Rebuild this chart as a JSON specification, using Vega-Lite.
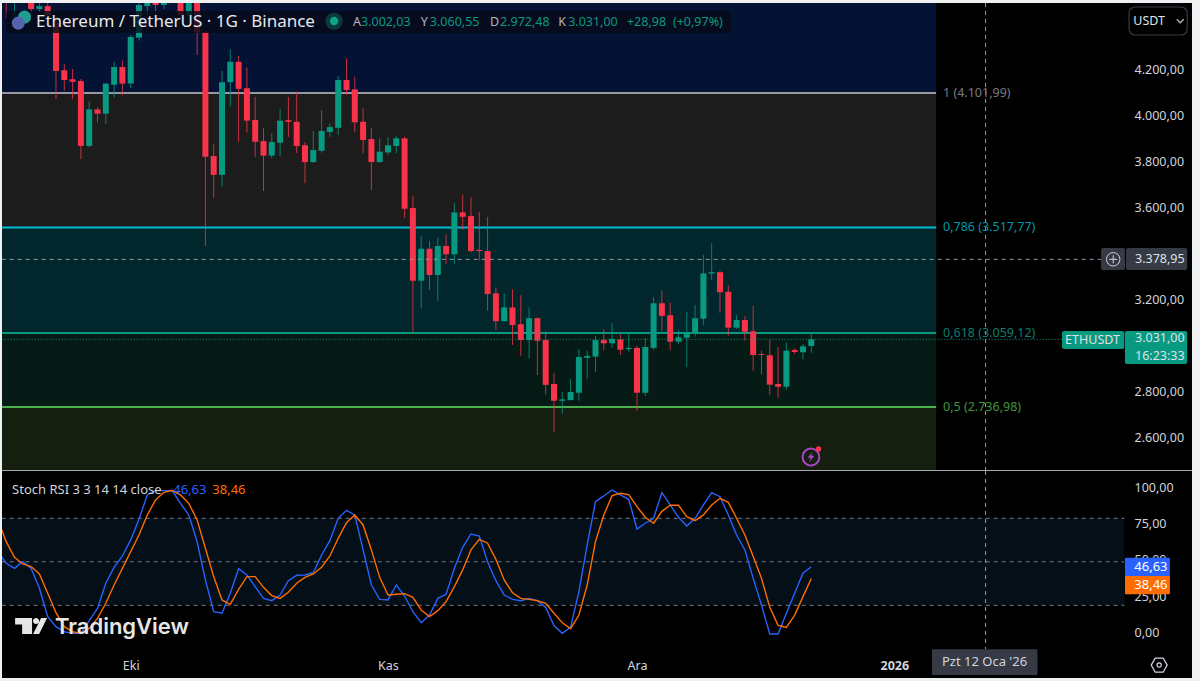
{
"$schema":"https://vega.github.io/schema/vega-lite/v6.json",
"background":"#eef0f2",
"padding":{"left":2,"top":3,"right":8,"bottom":3},
"spacing":0,
"config":{"view":{"stroke":null,"fill":"#000000"},"font":"Noto Sans","text":{"font":"Noto Sans"}},
"datasets":{
"candles":[
{"date":"2025-09-16","open":4560,"high":4575,"low":4428,"close":4530},
{"date":"2025-09-17","open":4520,"high":4570,"low":4428,"close":4550},
{"date":"2025-09-19","open":4528,"high":4540,"low":4446,"close":4467},
{"date":"2025-09-20","open":4467,"high":4500,"low":4454,"close":4480},
{"date":"2025-09-21","open":4480,"high":4510,"low":4437,"close":4441},
{"date":"2025-09-22","open":4407,"high":4446,"low":4077,"close":4198},
{"date":"2025-09-23","open":4201,"high":4228,"low":4112,"close":4159},
{"date":"2025-09-24","open":4162,"high":4207,"low":4075,"close":4151},
{"date":"2025-09-25","open":4154,"high":4163,"low":3815,"close":3872},
{"date":"2025-09-26","open":3872,"high":4066,"low":3867,"close":4031},
{"date":"2025-09-27","open":4031,"high":4040,"low":3975,"close":4012},
{"date":"2025-09-28","open":4012,"high":4146,"low":3967,"close":4143},
{"date":"2025-09-29","open":4138,"high":4236,"low":4082,"close":4215},
{"date":"2025-09-30","open":4215,"high":4244,"low":4092,"close":4143},
{"date":"2025-10-01","open":4143,"high":4354,"low":4124,"close":4346},
{"date":"2025-10-02","open":4343,"high":4500,"low":4330,"close":4485},
{"date":"2025-10-03","open":4480,"high":4540,"low":4437,"close":4528},
{"date":"2025-10-04","open":4510,"high":4530,"low":4441,"close":4485},
{"date":"2025-10-05","open":4485,"high":4530,"low":4467,"close":4510},
{"date":"2025-10-06","open":4505,"high":4530,"low":4492,"close":4520},
{"date":"2025-10-07","open":4530,"high":4540,"low":4433,"close":4441},
{"date":"2025-10-08","open":4441,"high":4540,"low":4415,"close":4530},
{"date":"2025-10-09","open":4530,"high":4540,"low":4267,"close":4366},
{"date":"2025-10-10","open":4366,"high":4376,"low":3437,"close":3825},
{"date":"2025-10-11","open":3828,"high":3879,"low":3647,"close":3746},
{"date":"2025-10-12","open":3746,"high":4198,"low":3695,"close":4149},
{"date":"2025-10-13","open":4149,"high":4292,"low":4043,"close":4238},
{"date":"2025-10-14","open":4238,"high":4263,"low":3890,"close":4120},
{"date":"2025-10-15","open":4123,"high":4214,"low":3930,"close":3982},
{"date":"2025-10-16","open":3985,"high":4085,"low":3825,"close":3890},
{"date":"2025-10-17","open":3893,"high":3950,"low":3676,"close":3830},
{"date":"2025-10-18","open":3830,"high":3928,"low":3818,"close":3889},
{"date":"2025-10-19","open":3886,"high":4033,"low":3828,"close":3982},
{"date":"2025-10-20","open":3984,"high":4085,"low":3911,"close":3977},
{"date":"2025-10-21","open":3977,"high":4108,"low":3841,"close":3872},
{"date":"2025-10-22","open":3875,"high":3889,"low":3710,"close":3802},
{"date":"2025-10-23","open":3802,"high":3937,"low":3798,"close":3854},
{"date":"2025-10-24","open":3851,"high":4028,"low":3843,"close":3937},
{"date":"2025-10-25","open":3933,"high":3970,"low":3912,"close":3954},
{"date":"2025-10-26","open":3951,"high":4176,"low":3920,"close":4159},
{"date":"2025-10-27","open":4159,"high":4253,"low":4094,"close":4115},
{"date":"2025-10-28","open":4118,"high":4173,"low":3933,"close":3975},
{"date":"2025-10-29","open":3977,"high":4036,"low":3840,"close":3898},
{"date":"2025-10-30","open":3902,"high":3949,"low":3680,"close":3802},
{"date":"2025-10-31","open":3802,"high":3905,"low":3798,"close":3847},
{"date":"2025-11-01","open":3844,"high":3910,"low":3833,"close":3875},
{"date":"2025-11-02","open":3872,"high":3917,"low":3840,"close":3905},
{"date":"2025-11-03","open":3905,"high":3912,"low":3560,"close":3599},
{"date":"2025-11-04","open":3602,"high":3656,"low":3060,"close":3286},
{"date":"2025-11-05","open":3286,"high":3480,"low":3166,"close":3425},
{"date":"2025-11-06","open":3425,"high":3459,"low":3246,"close":3311},
{"date":"2025-11-07","open":3311,"high":3473,"low":3198,"close":3437},
{"date":"2025-11-08","open":3437,"high":3488,"low":3359,"close":3401},
{"date":"2025-11-09","open":3401,"high":3623,"low":3359,"close":3583},
{"date":"2025-11-10","open":3583,"high":3660,"low":3507,"close":3564},
{"date":"2025-11-11","open":3567,"high":3649,"low":3408,"close":3415},
{"date":"2025-11-12","open":3420,"high":3586,"low":3373,"close":3415},
{"date":"2025-11-13","open":3415,"high":3564,"low":3156,"close":3228},
{"date":"2025-11-14","open":3231,"high":3257,"low":3072,"close":3110},
{"date":"2025-11-15","open":3110,"high":3231,"low":3108,"close":3170},
{"date":"2025-11-16","open":3170,"high":3249,"low":3007,"close":3094},
{"date":"2025-11-17","open":3097,"high":3223,"low":2960,"close":3028},
{"date":"2025-11-18","open":3028,"high":3170,"low":2949,"close":3123},
{"date":"2025-11-19","open":3123,"high":3127,"low":2876,"close":3025},
{"date":"2025-11-20","open":3028,"high":3066,"low":2792,"close":2833},
{"date":"2025-11-21","open":2837,"high":2886,"low":2627,"close":2764},
{"date":"2025-11-22","open":2764,"high":2802,"low":2708,"close":2770},
{"date":"2025-11-23","open":2767,"high":2859,"low":2765,"close":2802},
{"date":"2025-11-24","open":2799,"high":2989,"low":2764,"close":2954},
{"date":"2025-11-25","open":2951,"high":2982,"low":2859,"close":2959},
{"date":"2025-11-26","open":2956,"high":3047,"low":2890,"close":3028},
{"date":"2025-11-27","open":3028,"high":3075,"low":2985,"close":3014},
{"date":"2025-11-28","open":3014,"high":3101,"low":2995,"close":3033},
{"date":"2025-11-29","open":3031,"high":3054,"low":2963,"close":2986},
{"date":"2025-11-30","open":2989,"high":3057,"low":2977,"close":2994},
{"date":"2025-12-01","open":2994,"high":3002,"low":2720,"close":2799},
{"date":"2025-12-02","open":2799,"high":3036,"low":2785,"close":2998},
{"date":"2025-12-03","open":2994,"high":3214,"low":2985,"close":3188},
{"date":"2025-12-04","open":3188,"high":3243,"low":3067,"close":3133},
{"date":"2025-12-05","open":3136,"high":3192,"low":2985,"close":3021},
{"date":"2025-12-06","open":3021,"high":3070,"low":3011,"close":3040},
{"date":"2025-12-07","open":3038,"high":3150,"low":2910,"close":3060},
{"date":"2025-12-08","open":3057,"high":3180,"low":3043,"close":3123},
{"date":"2025-12-09","open":3121,"high":3399,"low":3094,"close":3318},
{"date":"2025-12-10","open":3317,"high":3449,"low":3289,"close":3323},
{"date":"2025-12-11","open":3323,"high":3328,"low":3147,"close":3236},
{"date":"2025-12-12","open":3238,"high":3266,"low":3047,"close":3082},
{"date":"2025-12-13","open":3082,"high":3136,"low":3076,"close":3115},
{"date":"2025-12-14","open":3115,"high":3131,"low":3025,"close":3064},
{"date":"2025-12-15","open":3066,"high":3177,"low":2895,"close":2963},
{"date":"2025-12-16","open":2967,"high":2982,"low":2879,"close":2963},
{"date":"2025-12-17","open":2962,"high":3031,"low":2790,"close":2834},
{"date":"2025-12-18","open":2837,"high":2997,"low":2777,"close":2825},
{"date":"2025-12-19","open":2825,"high":3018,"low":2811,"close":2982},
{"date":"2025-12-20","open":2985,"high":2992,"low":2967,"close":2976},
{"date":"2025-12-21","open":2975,"high":3011,"low":2944,"close":3001},
{"date":"2025-12-22","open":3002.03,"high":3060.55,"low":2972.48,"close":3031.00}
],
"stoch":[
{"date":"2025-09-15","k":57.0,"d":79},
{"date":"2025-09-16","k":49.0,"d":63.9},
{"date":"2025-09-17","k":45.5,"d":53.1},
{"date":"2025-09-18","k":50.1,"d":48.5},
{"date":"2025-09-19","k":45.5,"d":46.7},
{"date":"2025-09-20","k":31.7,"d":41.6},
{"date":"2025-09-21","k":12.2,"d":28.3},
{"date":"2025-09-22","k":5.3,"d":14.9},
{"date":"2025-09-23","k":1.8,"d":5.3},
{"date":"2025-09-24","k":0.7,"d":1.8},
{"date":"2025-09-25","k":0.7,"d":0.7},
{"date":"2025-09-26","k":9.4,"d":4.1},
{"date":"2025-09-27","k":17.9,"d":11.0},
{"date":"2025-09-28","k":35.2,"d":21.4},
{"date":"2025-09-29","k":46.2,"d":34.0},
{"date":"2025-09-30","k":54.0,"d":45.5},
{"date":"2025-10-01","k":65.1,"d":57.0},
{"date":"2025-10-02","k":79.3,"d":68.5},
{"date":"2025-10-03","k":96.1,"d":82.3},
{"date":"2025-10-04","k":99.1,"d":92.6},
{"date":"2025-10-05","k":99.1,"d":97.9},
{"date":"2025-10-06","k":99.1,"d":99.1},
{"date":"2025-10-07","k":90.3,"d":96.1},
{"date":"2025-10-08","k":82.3,"d":90.3},
{"date":"2025-10-09","k":63.9,"d":78.9},
{"date":"2025-10-10","k":37.5,"d":59.3},
{"date":"2025-10-11","k":15.6,"d":39.8},
{"date":"2025-10-12","k":14.5,"d":23.7},
{"date":"2025-10-13","k":28.3,"d":20.7},
{"date":"2025-10-14","k":45.3,"d":31.0},
{"date":"2025-10-15","k":40.9,"d":39.8},
{"date":"2025-10-16","k":32.9,"d":39.8},
{"date":"2025-10-17","k":24.8,"d":32.4},
{"date":"2025-10-18","k":23.2,"d":26.7},
{"date":"2025-10-19","k":27.1,"d":24.8},
{"date":"2025-10-20","k":37.0,"d":29.0},
{"date":"2025-10-21","k":40.7,"d":35.2},
{"date":"2025-10-22","k":40.9,"d":39.3},
{"date":"2025-10-23","k":42.5,"d":41.6},
{"date":"2025-10-24","k":54.7,"d":46.2},
{"date":"2025-10-25","k":64.6,"d":54.0},
{"date":"2025-10-26","k":80.0,"d":66.2},
{"date":"2025-10-27","k":85.5,"d":77.0},
{"date":"2025-10-28","k":82.3,"d":82.3},
{"date":"2025-10-29","k":58.2,"d":75.4},
{"date":"2025-10-30","k":34.0,"d":58.2},
{"date":"2025-10-31","k":24.1,"d":39.3},
{"date":"2025-11-01","k":23.7,"d":27.1},
{"date":"2025-11-02","k":34.0,"d":27.6},
{"date":"2025-11-03","k":26.4,"d":28.0},
{"date":"2025-11-04","k":15.6,"d":25.5},
{"date":"2025-11-05","k":8.0,"d":16.8},
{"date":"2025-11-06","k":13.3,"d":12.2},
{"date":"2025-11-07","k":24.8,"d":16.3},
{"date":"2025-11-08","k":27.6,"d":22.5},
{"date":"2025-11-09","k":45.5,"d":32.9},
{"date":"2025-11-10","k":60.0,"d":44.4},
{"date":"2025-11-11","k":69.2,"d":58.2},
{"date":"2025-11-12","k":67.8,"d":65.5},
{"date":"2025-11-13","k":50.1,"d":62.8},
{"date":"2025-11-14","k":37.0,"d":51.7},
{"date":"2025-11-15","k":27.1,"d":37.5},
{"date":"2025-11-16","k":24.1,"d":28.7},
{"date":"2025-11-17","k":23.2,"d":24.8},
{"date":"2025-11-18","k":24.8,"d":24.1},
{"date":"2025-11-19","k":23.2,"d":23.2},
{"date":"2025-11-20","k":18.6,"d":21.4},
{"date":"2025-11-21","k":6.0,"d":14.5},
{"date":"2025-11-22","k":0.7,"d":8.0},
{"date":"2025-11-23","k":4.8,"d":3.9},
{"date":"2025-11-24","k":29.4,"d":13.3},
{"date":"2025-11-25","k":61.6,"d":34.0},
{"date":"2025-11-26","k":91.5,"d":63.9},
{"date":"2025-11-27","k":95.4,"d":82.3},
{"date":"2025-11-28","k":99.5,"d":95.6},
{"date":"2025-11-29","k":96.1,"d":97.2},
{"date":"2025-11-30","k":93.1,"d":96.3},
{"date":"2025-12-01","k":72.6,"d":88.0},
{"date":"2025-12-02","k":76.6,"d":80.7},
{"date":"2025-12-03","k":80.0,"d":76.6},
{"date":"2025-12-04","k":97.7,"d":84.8},
{"date":"2025-12-05","k":89.2,"d":89.0},
{"date":"2025-12-06","k":80.7,"d":89.0},
{"date":"2025-12-07","k":74.7,"d":81.1},
{"date":"2025-12-08","k":80.0,"d":78.4},
{"date":"2025-12-09","k":89.2,"d":82.3},
{"date":"2025-12-10","k":97.7,"d":89.2},
{"date":"2025-12-11","k":94.9,"d":93.8},
{"date":"2025-12-12","k":82.3,"d":91.0},
{"date":"2025-12-13","k":68.5,"d":80.0},
{"date":"2025-12-14","k":58.2,"d":68.5},
{"date":"2025-12-15","k":38.6,"d":53.6},
{"date":"2025-12-16","k":20.2,"d":38.6},
{"date":"2025-12-17","k":0.2,"d":18.6},
{"date":"2025-12-18","k":0.2,"d":6.2},
{"date":"2025-12-19","k":14.5,"d":4.8},
{"date":"2025-12-20","k":28.3,"d":13.3},
{"date":"2025-12-21","k":42.1,"d":26.0},
{"date":"2025-12-22","k":46.63,"d":38.46}
]
},
"vconcat":[
{
"width":1190,"height":468,
"resolve":{"scale":{"color":"independent"}},
"encoding":{
"x":{"field":"date","type":"temporal","title":null,"axis":null,"scale":{"type":"utc","padding":0,"domain":[1757937081600,1770324768000]}},
"y":{"field":"price","type":"quantitative","title":null,"scale":{"domain":[2458.7,4493.5],"nice":false,"zero":false},
"axis":{"title":null,"orient":"right","offset":-58,"domain":false,"ticks":false,"grid":false,"labelPadding":0,"labelOffset":-1,"labelColor":"#d1d4dc","labelFont":"Noto Sans","labelFontSize":12.5,"labelAlign":"left","values":[2600,2800,3200,3600,3800,4000,4200],"labelExpr":"replace(replace(replace(format(datum.value,',.2f'),',','#'),'.',','),'#','.')"}}
},
"layer":[
{"data":{"values":[
{"date":"2025-09-01","date2":"2026-01-06T01:00Z","price":4600,"price2":4101.99,"zone":"a"},
{"date":"2025-09-01","date2":"2026-01-06T01:00Z","price":4101.99,"price2":3517.77,"zone":"b"},
{"date":"2025-09-01","date2":"2026-01-06T01:00Z","price":3517.77,"price2":3059.12,"zone":"c"},
{"date":"2025-09-01","date2":"2026-01-06T01:00Z","price":3059.12,"price2":2736.98,"zone":"d"},
{"date":"2025-09-01","date2":"2026-01-06T01:00Z","price":2736.98,"price2":2400,"zone":"e"}]},
"mark":{"type":"rect","clip":true},
"encoding":{"x2":{"field":"date2"},"y2":{"field":"price2"},"color":{"field":"zone","type":"nominal","legend":null,"scale":{"domain":["a","b","c","d","e"],"range":["#041234","#1c1c1c","#01262b","#061a16","#151f0f"]}}}},
{"data":{"values":[
{"date":"2025-09-01","date2":"2026-01-06T01:00Z","price":4101.99,"level":"1"},
{"date":"2025-09-01","date2":"2026-01-06T01:00Z","price":3517.77,"level":"0.786"},
{"date":"2025-09-01","date2":"2026-01-06T01:00Z","price":3059.12,"level":"0.618"},
{"date":"2025-09-01","date2":"2026-01-06T01:00Z","price":2736.98,"level":"0.5"}]},
"mark":{"type":"rule","clip":true,"strokeWidth":2},
"encoding":{"x2":{"field":"date2"},"color":{"field":"level","type":"nominal","legend":null,"scale":{"domain":["1","0.786","0.618","0.5"],"range":["#9598a1","#00bcd4","#089981","#4caf50"]}}}},
{"data":{"name":"candles"},
"mark":{"type":"rule","clip":true,"strokeWidth":1,"opacity":0.8},
"encoding":{"y":{"field":"low","type":"quantitative","title":null,"scale":{"domain":[2458.7,4493.5],"nice":false,"zero":false},"axis":{"title":null,"orient":"right","offset":-58,"domain":false,"ticks":false,"grid":false,"labelPadding":0,"labelOffset":-1,"labelColor":"#d1d4dc","labelFont":"Noto Sans","labelFontSize":12.5,"labelAlign":"left","values":[2600,2800,3200,3600,3800,4000,4200],"labelExpr":"replace(replace(replace(format(datum.value,',.2f'),',','#'),'.',','),'#','.')"}},"y2":{"field":"high"},"color":{"condition":{"test":"datum.close>=datum.open","value":"#089981"},"value":"#f23645"}}},
{"data":{"name":"candles"},
"mark":{"type":"bar","clip":true,"size":6},
"encoding":{"y":{"field":"open","type":"quantitative","title":null,"scale":{"domain":[2458.7,4493.5],"nice":false,"zero":false},"axis":{"title":null,"orient":"right","offset":-58,"domain":false,"ticks":false,"grid":false,"labelPadding":0,"labelOffset":-1,"labelColor":"#d1d4dc","labelFont":"Noto Sans","labelFontSize":12.5,"labelAlign":"left","values":[2600,2800,3200,3600,3800,4000,4200],"labelExpr":"replace(replace(replace(format(datum.value,',.2f'),',','#'),'.',','),'#','.')"}},"y2":{"field":"close"},"color":{"condition":{"test":"datum.close>=datum.open","value":"#089981"},"value":"#f8334a"}}},
{"data":{"values":[{"date":"2025-09-01","date2":"2026-01-25T22:00Z","price":3378.95}]},
"mark":{"type":"rule","clip":true,"color":"#9598a1","strokeWidth":1,"strokeDash":[4,4]},
"encoding":{"x2":{"field":"date2"}}},
{"data":{"values":[{"date":"2025-09-01","date2":"2026-01-21T05:00Z","price":3031}]},
"mark":{"type":"rule","clip":true,"color":"#089981","strokeWidth":1,"strokeDash":[1,2]},
"encoding":{"x2":{"field":"date2"}}},
{"data":{"values":[{"date":"2026-01-12","price":4493.5,"price2":2458.7}]},
"mark":{"type":"rule","clip":true,"color":"#9598a1","strokeWidth":1,"strokeDash":[4,4]},
"encoding":{"y2":{"field":"price2"}}},
{"data":{"values":[{"date":"2025-09-01","date2":"2026-02-28","price":2460}]},
"mark":{"type":"rule","clip":true,"color":"#a6a9b0","strokeWidth":1.5},
"encoding":{"x2":{"field":"date2"}}},
{"data":{"values":[
{"date":"2025-09-16","date2":"2025-12-12T08:00Z","price":4458.7,"price2":4363,"role":"header"},
{"date":"2026-01-25T22:00Z","date2":"2026-01-28T19:00Z","price":3428.3,"price2":3332.6,"role":"gray"},
{"date":"2026-01-28T22:00Z","date2":"2026-02-05T07:00Z","price":3428.3,"price2":3332.6,"role":"gray"},
{"date":"2026-01-21T05:00Z","date2":"2026-01-28T17:00Z","price":3067.4,"price2":2989.2,"role":"teal"},
{"date":"2026-01-28T19:00Z","date2":"2026-02-05T07:00Z","price":3067.4,"price2":2923.9,"role":"teal"}]},
"mark":{"type":"rect","cornerRadius":2},
"encoding":{"x2":{"field":"date2"},"y2":{"field":"price2"},"color":{"field":"role","type":"nominal","legend":null,"scale":{"domain":["header","gray","teal"],"range":["#070b1a","#363a45","#089981"]}},"opacity":{"condition":{"test":"datum.role==='header'","value":0.82},"value":1}}},
{"data":{"values":[{"date":"2026-01-29T07:00Z","date2":"2026-02-05T07:00Z","price":4476,"price2":4354.4}]},
"mark":{"type":"rect","cornerRadius":6,"fillOpacity":0,"stroke":"#363a45","strokeWidth":1.2},
"encoding":{"x2":{"field":"date2"},"y2":{"field":"price2"}}},
{"data":{"values":[{"date":"2025-09-18T05:00Z","price":4432,"role":"teal"},{"date":"2025-09-17T11:00Z","price":4406,"role":"blue"}]},
"mark":{"type":"circle","size":170,"opacity":1},
"encoding":{"color":{"field":"role","type":"nominal","legend":null,"scale":{"domain":["teal","blue"],"range":["#1f9e8f","#5565ad"]}}}},
{"data":{"values":[{"date":"2025-10-25T12:00Z","price":4415}]},
"mark":{"type":"circle","size":300,"color":"#0c3a3a","opacity":1}},
{"data":{"values":[{"date":"2025-10-25T12:00Z","price":4415}]},
"mark":{"type":"circle","size":70,"color":"#0ba58a","opacity":1}},
{"data":{"values":[{"date":"2025-09-19T14:00Z","price":4411,"label":"Ethereum / TetherUS · 1G · Binance"}]},
"mark":{"type":"text","align":"left","baseline":"middle","fontSize":17,"color":"#e6e8ee"},
"encoding":{"text":{"field":"label"}}},
{"data":{"values":[
{"date":"2025-10-27T19:00Z","price":4411,"label":"A","role":"key"},
{"date":"2025-10-28T18:00Z","price":4411,"label":"3.002,03","role":"val"},
{"date":"2025-11-04T23:00Z","price":4411,"label":"Y","role":"key"},
{"date":"2025-11-06T01:00Z","price":4411,"label":"3.060,55","role":"val"},
{"date":"2025-11-13T07:00Z","price":4411,"label":"D","role":"key"},
{"date":"2025-11-14T12:00Z","price":4411,"label":"2.972,48","role":"val"},
{"date":"2025-11-21T12:00Z","price":4411,"label":"K","role":"key"},
{"date":"2025-11-22T17:00Z","price":4411,"label":"3.031,00","role":"val"},
{"date":"2025-11-29T19:00Z","price":4411,"label":"+28,98","role":"val"},
{"date":"2025-12-05T08:00Z","price":4411,"label":"(+0,97%)","role":"val"},
{"date":"2026-01-06T21:00Z","price":4101.99,"label":"1 (4.101,99)","role":"fib1"},
{"date":"2026-01-06T21:00Z","price":3517.77,"label":"0,786 (3.517,77)","role":"fib2"},
{"date":"2026-01-06T21:00Z","price":3059.12,"label":"0,618 (3.059,12)","role":"fib3"},
{"date":"2026-01-06T21:00Z","price":2736.98,"label":"0,5 (2.736,98)","role":"fib4"},
{"date":"2026-01-30T00:00Z","price":3379,"label":"3.378,95","role":"tag"},
{"date":"2026-01-30T00:00Z","price":3035,"label":"3.031,00","role":"tag"},
{"date":"2026-01-30T00:00Z","price":2960,"label":"16:23:33","role":"tag"},
{"date":"2026-01-21T14:00Z","price":3028,"label":"ETHUSDT","role":"tag"},
{"date":"2026-01-29T19:00Z","price":4415,"label":"USDT","role":"tag"}]},
"mark":{"type":"text","align":"left","baseline":"middle","fontSize":12.5},
"encoding":{"text":{"field":"label"},"color":{"field":"role","type":"nominal","legend":null,"scale":{"domain":["key","val","fib1","fib2","fib3","fib4","tag"],"range":["#b2b5be","#089981","#787b86","#0097a7","#0b7f70","#43953f","#dfe2e8"]}}}},
{"data":{"values":[{"date":"2026-01-27T09:00Z","price":3379}]},
"mark":{"type":"circle","size":180,"fillOpacity":0,"stroke":"#d1d4dc","strokeWidth":1,"opacity":1}},
{"data":{"values":[{"date":"2026-01-27T09:00Z","price":3379}]},
"mark":{"type":"point","shape":"M-1,0 L1,0 M0,-1 L0,1","size":64,"stroke":"#d1d4dc","strokeWidth":1,"opacity":1}},
{"data":{"values":[{"date":"2026-02-04T11:00Z","price":4415}]},
"mark":{"type":"point","shape":"M-1,-.5 L0,.5 L1,-.5","size":49,"stroke":"#b2b5be","strokeWidth":1.3,"opacity":1}},
{"data":{"values":[{"date":"2025-12-21T23:00Z","price":2519.6}]},
"mark":{"type":"circle","size":283,"fillOpacity":0,"stroke":"#a845c8","strokeWidth":2,"opacity":1}},
{"data":{"values":[{"date":"2025-12-21T23:00Z","price":2519.6}]},
"mark":{"type":"point","shape":"M.3,-.9 L-.6,.15 L-.05,.15 L-.3,.9 L.6,-.2 L.05,-.2 Z","size":130,"filled":true,"color":"#a845c8","opacity":1}},
{"data":{"values":[{"date":"2025-12-22T21:00Z","price":2554}]},
"mark":{"type":"circle","size":30,"color":"#f9324a","opacity":1}}
]
},
{
"width":1190,"height":207,
"resolve":{"scale":{"color":"independent"}},
"encoding":{
"x":{"field":"date","type":"temporal","title":null,"scale":{"type":"utc","padding":0,"domain":[1757937081600,1770324768000]},
"axis":{"orient":"bottom","offset":-19,"domain":false,"ticks":false,"grid":false,"labelPadding":0,"labelColor":"#d1d4dc","labelFont":"Noto Sans","labelFontSize":12.5,"labelFontWeight":{"condition":{"test":"utcyear(datum.value)===2026","value":"bold"},"value":"normal"},"labelOverlap":false,"labelFlush":false,"values":[1759276800000,1761955200000,1764547200000,1767225600000],"labelExpr":"utcyear(datum.value)===2026?'2026':(utcmonth(datum.value)===9?'Eki':(utcmonth(datum.value)===10?'Kas':'Ara'))"}},
"y":{"field":"value","type":"quantitative","title":null,"scale":{"domain":[-30.1,112.6],"nice":false,"zero":false},
"axis":{"title":null,"orient":"right","offset":-58,"domain":false,"ticks":false,"grid":false,"labelPadding":0,"labelOffset":-2,"labelColor":"#d1d4dc","labelFont":"Noto Sans","labelFontSize":12.5,"labelAlign":"left","values":[0,25,50,75,100],"labelExpr":"replace(format(datum.value,'.2f'),'.',',')"}}
},
"layer":[
{"data":{"values":[{"date":"2025-09-01","date2":"2026-01-28T17:00Z","value":80,"value2":20}]},
"mark":{"type":"rect","clip":true,"color":"#040f18"},
"encoding":{"x2":{"field":"date2"},"y2":{"field":"value2"}}},
{"data":{"values":[{"date":"2025-09-01","date2":"2026-01-28T17:00Z","value":80},{"date":"2025-09-01","date2":"2026-01-28T17:00Z","value":50},{"date":"2025-09-01","date2":"2026-01-28T17:00Z","value":20}]},
"mark":{"type":"rule","clip":true,"color":"#787b86","strokeWidth":1,"strokeDash":[4,4]},
"encoding":{"x2":{"field":"date2"}}},
{"data":{"values":[{"date":"2026-01-12","value":112.6,"value2":-10.3}]},
"mark":{"type":"rule","clip":true,"color":"#9598a1","strokeWidth":1,"strokeDash":[4,4]},
"encoding":{"y2":{"field":"value2"}}},
{"data":{"name":"stoch"},
"mark":{"type":"line","clip":true,"strokeWidth":1.4,"color":"#2962ff"},
"encoding":{"y":{"field":"k","type":"quantitative","title":null,"scale":{"domain":[-30.1,112.6],"nice":false,"zero":false},"axis":{"title":null,"orient":"right","offset":-58,"domain":false,"ticks":false,"grid":false,"labelPadding":0,"labelOffset":-2,"labelColor":"#d1d4dc","labelFont":"Noto Sans","labelFontSize":12.5,"labelAlign":"left","values":[0,25,50,75,100],"labelExpr":"replace(format(datum.value,'.2f'),'.',',')"}}}},
{"data":{"name":"stoch"},
"mark":{"type":"line","clip":true,"strokeWidth":1.4,"color":"#ff6d00"},
"encoding":{"y":{"field":"d","type":"quantitative","title":null,"scale":{"domain":[-30.1,112.6],"nice":false,"zero":false},"axis":{"title":null,"orient":"right","offset":-58,"domain":false,"ticks":false,"grid":false,"labelPadding":0,"labelOffset":-2,"labelColor":"#d1d4dc","labelFont":"Noto Sans","labelFontSize":12.5,"labelAlign":"left","values":[0,25,50,75,100],"labelExpr":"replace(format(datum.value,'.2f'),'.',',')"}}}},
{"data":{"values":[{"date":"2026-01-28T19:00Z","date2":"2026-02-03T05:00Z","value":52.8,"value2":40.2,"role":"k"},{"date":"2026-01-28T19:00Z","date2":"2026-02-03T05:00Z","value":40.2,"value2":27.6,"role":"d"},{"date":"2026-01-05T13:00Z","date2":"2026-01-18T06:00Z","value":-10.3,"value2":-28,"role":"x"}]},
"mark":{"type":"rect","cornerRadius":1},
"encoding":{"x2":{"field":"date2"},"y2":{"field":"value2"},"color":{"field":"role","type":"nominal","legend":null,"scale":{"domain":["k","d","x"],"range":["#2962ff","#ff6d00","#363a45"]}}}},
{"data":{"values":[
{"date":"2025-09-16T17:00Z","value":99.5,"label":"Stoch RSI 3 3 14 14 close","role":"name"},
{"date":"2025-10-06T03:00Z","value":99.5,"label":"46,63","role":"k"},
{"date":"2025-10-10T20:00Z","value":99.5,"label":"38,46","role":"d"},
{"date":"2026-01-29T22:00Z","value":46.7,"label":"46,63","role":"tag"},
{"date":"2026-01-29T22:00Z","value":34,"label":"38,46","role":"tag"},
{"date":"2026-01-06T18:00Z","value":-19,"label":"Pzt 12 Oca '26","role":"name"}]},
"mark":{"type":"text","align":"left","baseline":"middle","fontSize":13},
"encoding":{"text":{"field":"label"},"color":{"field":"role","type":"nominal","legend":null,"scale":{"domain":["name","k","d","tag"],"range":["#d1d4dc","#2962ff","#ff6d00","#ffffff"]}}}},
{"data":{"values":[{"date":"2025-09-19T00:00Z","value":5}]},
"mark":{"type":"point","shape":"M-1,-.56 L.06,-.56 L.06,.44 L-.56,.44 L-.56,-.16 L-1,-.16 Z M.12,-.375 A.19,.19 0 1 0 .5,-.375 A.19,.19 0 1 0 .12,-.375 Z M.625,-.5625 L1,-.5625 L.5,.4375 L.125,.4375 Z","size":1024,"filled":true,"color":"#e6e6e6","opacity":1}},
{"data":{"values":[{"date":"2025-09-21T21:00Z","value":5,"label":"TradingView"}]},
"mark":{"type":"text","align":"left","baseline":"middle","fontSize":22,"fontWeight":600,"font":"Inter","color":"#e6e6e6"},
"encoding":{"text":{"field":"label"}}},
{"data":{"values":[{"date":"2026-02-01T22:00Z","value":-21.2}]},
"mark":{"type":"point","shape":"M-1,0 L-.5,-.87 L.5,-.87 L1,0 L.5,.87 L-.5,.87 Z","size":256,"stroke":"#d1d4dc","strokeWidth":1.2,"opacity":1}},
{"data":{"values":[{"date":"2026-02-01T22:00Z","value":-21.2}]},
"mark":{"type":"circle","size":18,"fillOpacity":0,"stroke":"#d1d4dc","strokeWidth":1.2,"opacity":1}}
]
}
]
}
